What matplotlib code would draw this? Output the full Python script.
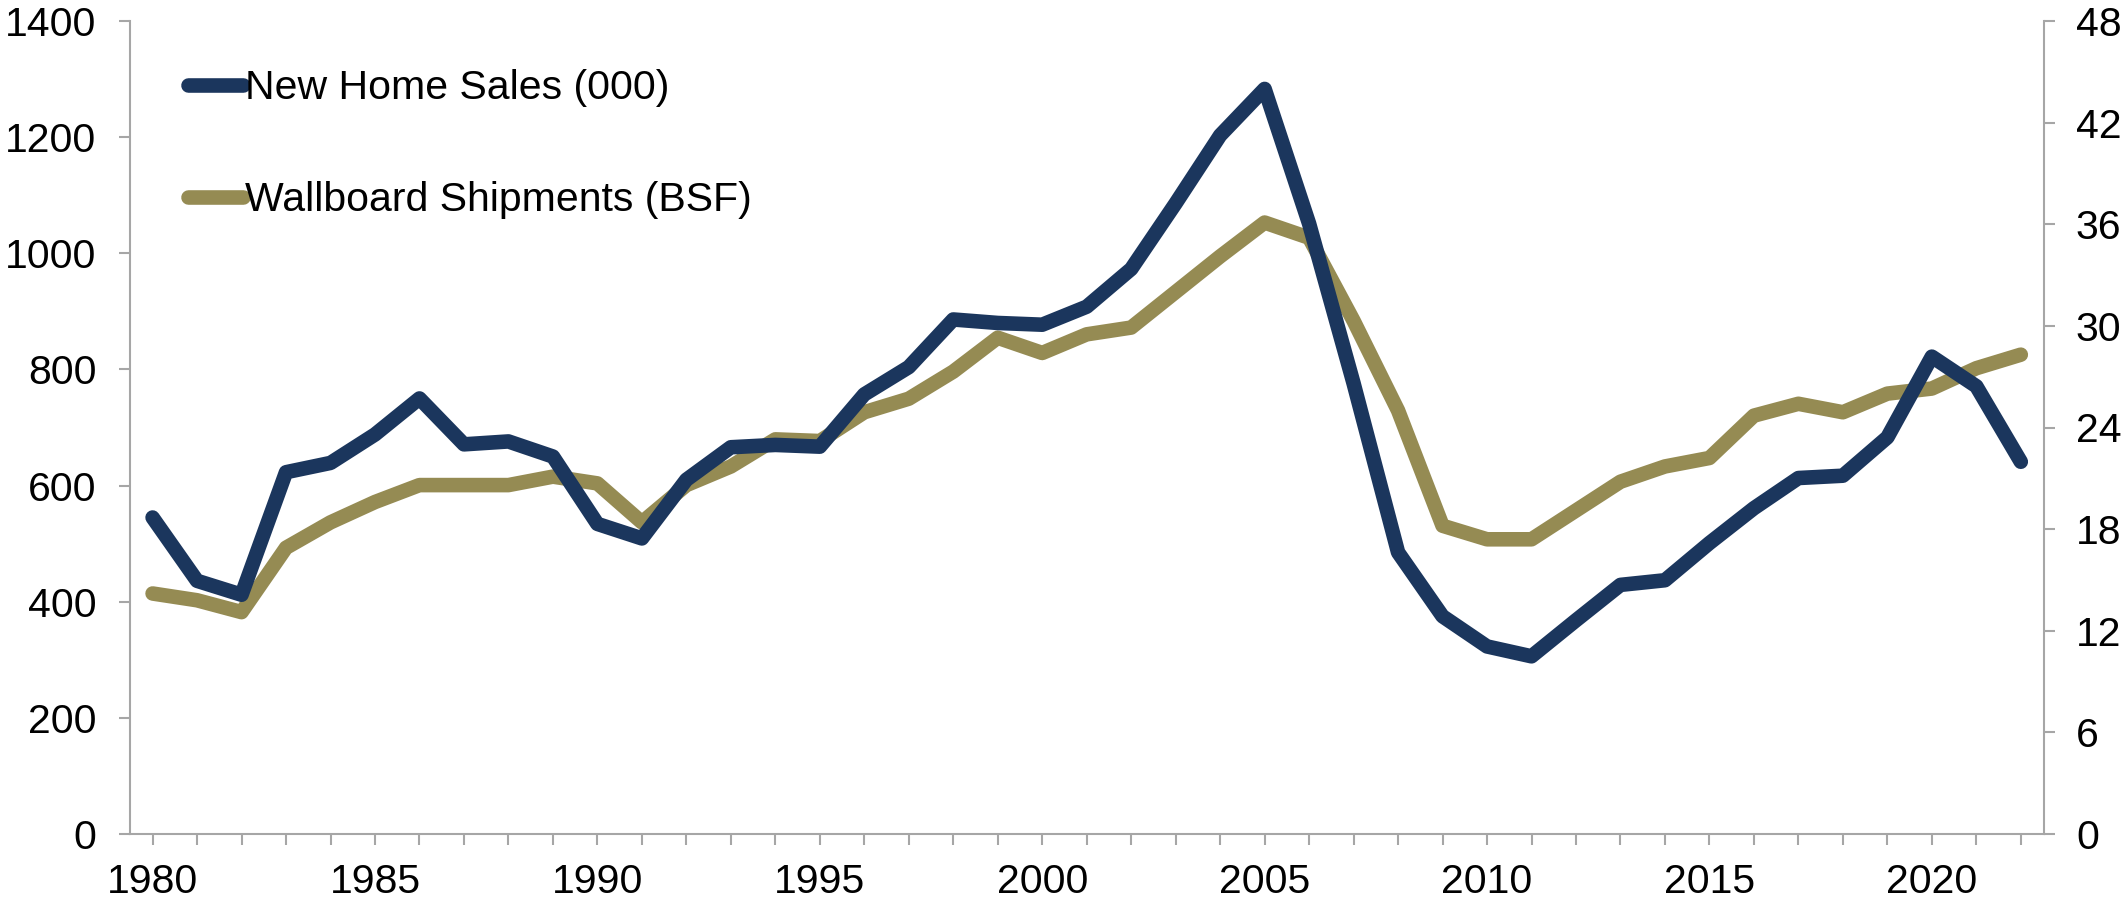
import matplotlib
matplotlib.use("Agg")
import matplotlib.pyplot as plt

plt.rcParams['font.family'] = ['Liberation Sans', 'DejaVu Sans']

# Annual data
years = list(range(1980, 2023))
new_home_sales = [545, 436, 412, 623, 639, 688, 750, 671, 676, 650,
                  534, 509, 610, 666, 670, 667, 757, 804, 886, 880,
                  877, 908, 973, 1086, 1203, 1283, 1051, 776, 485, 375,
                  323, 306, 368, 429, 437, 501, 561, 613, 617, 683,
                  822, 771, 641]
wallboard_bsf = [14.2, 13.8, 13.1, 16.9, 18.4, 19.6, 20.6, 20.6, 20.6, 21.1,
                 20.7, 18.4, 20.6, 21.7, 23.3, 23.2, 24.9, 25.7, 27.3, 29.3,
                 28.4, 29.5, 29.9, 32.0, 34.1, 36.1, 35.2, 30.3, 25.0, 18.2,
                 17.4, 17.4, 19.1, 20.8, 21.7, 22.2, 24.7, 25.4, 24.9, 26.0,
                 26.3, 27.5, 28.3]
left_ticks = [0, 200, 400, 600, 800, 1000, 1200, 1400]
right_ticks = [0, 6, 12, 18, 24, 30, 36, 42, 48]
year_labels = [1980, 1985, 1990, 1995, 2000, 2005, 2010, 2015, 2020]

navy = '#1B365D'
gold = '#958B53'
grey = '#A6A6A6'
fs = 29.5

fig = plt.figure(figsize=(21.26, 9.0), dpi=100)
ax = fig.add_axes([0.0611, 0.0733, 0.9003, 0.9034])
ax2 = ax.twinx()

l1, = ax.plot(years, new_home_sales, color=navy, lw=10.5, solid_capstyle='round',
              solid_joinstyle='round', label='New Home Sales (000)', zorder=3)
l2, = ax2.plot(years, wallboard_bsf, color=gold, lw=10.5, solid_capstyle='round',
               solid_joinstyle='round', label='Wallboard Shipments (BSF)', zorder=2)

ax.set_xlim(1979.49, 2022.52)
ax.set_ylim(0, 1400)
ax2.set_ylim(0, 48)
ax.set_yticks(left_ticks)
ax2.set_yticks(right_ticks)
ax.set_xticks(years, minor=True)
ax.set_xticks(year_labels)
ax.set_xticklabels([str(y) for y in year_labels])

for a in (ax, ax2):
    a.spines['top'].set_visible(False)
    for s in ('left', 'right', 'bottom'):
        a.spines[s].set_color(grey)
        a.spines[s].set_linewidth(1.5)
ax.spines['right'].set_visible(False)
ax2.spines['left'].set_visible(False)
ax2.spines['bottom'].set_visible(False)

ax.tick_params(axis='y', direction='out', length=8, width=1.5, color=grey,
               labelsize=fs, pad=16)
ax2.tick_params(axis='y', direction='out', length=8, width=1.5, color=grey,
                labelsize=fs, pad=15)
ax.tick_params(axis='x', which='both', direction='out', length=8, width=1.5,
               color=grey, labelsize=fs, pad=13)

ax.set_zorder(ax2.get_zorder() + 1)
ax.patch.set_visible(False)

ax.legend([l1, l2], [l1.get_label(), l2.get_label()], loc='upper left',
          bbox_to_anchor=(0.011, 0.986), frameon=False, fontsize=fs,
          handlelength=1.34, handletextpad=0.05, labelspacing=1.8)

fig.savefig('out.png', dpi=100)
